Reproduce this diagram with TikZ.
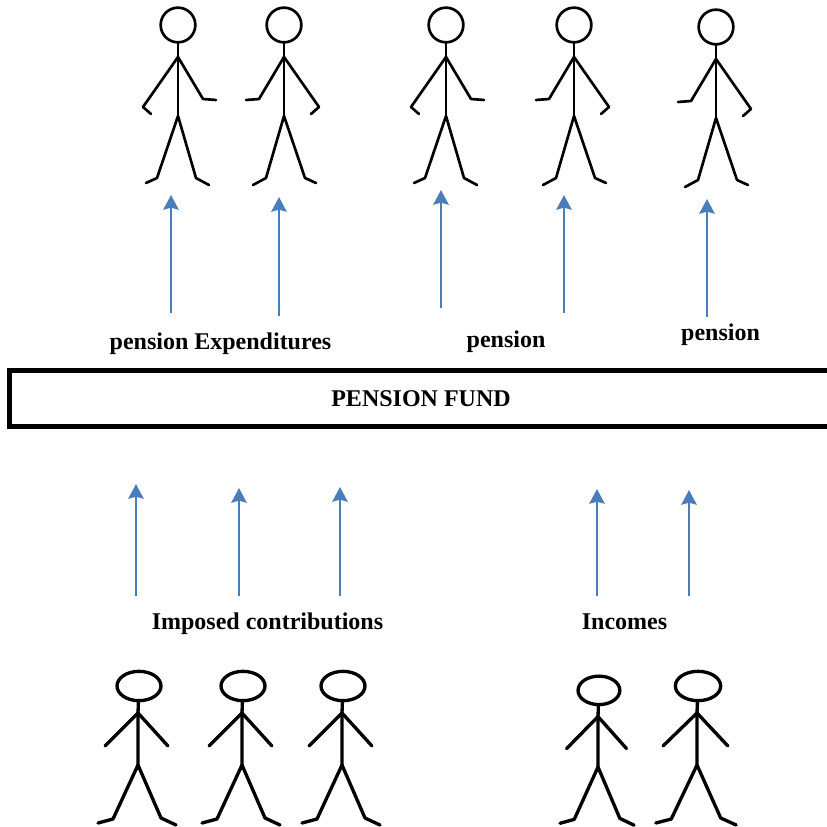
\documentclass[tikz,border=0pt]{standalone}
\usepackage{fontspec}
\setmainfont{Liberation Serif}
\usetikzlibrary{arrows.meta,shapes.geometric}

\definecolor{flowblue}{RGB}{74,126,187}

\tikzset{
  label/.style={font=\fontsize{18}{20}\selectfont\bfseries, inner sep=0pt, text height=12pt, text depth=4pt},
  fundbox/.style={draw, line width=3.75pt, minimum width=618pt, minimum height=42pt,
                  font=\fontsize{18}{20}\selectfont\bfseries, inner sep=0pt},
  flow/.style={-{Stealth[width=11.5pt,length=11pt,inset=1.5pt]}, flowblue, line width=1.9pt},
  limb/.style={line join=round, line cap=round},
  pics/payee/.style={code={
    \node[circle, draw, line width=2pt, minimum size=26pt, inner sep=0pt] (-head) at (0,-91) {};
    \coordinate (-neck) at (0,-59);
    \coordinate (-hip)  at (0,0);
    \draw[limb, line width=2pt] (-head) -- (-neck) -- (-hip);
    \draw[limb, line width=2pt] (-27,-2) -- (-35,-9) -- (-neck) -- (25,-17) -- (38,-16);
    \draw[limb, line width=2pt] (-32,67) -- (-21,62) -- (-hip) -- (18,62) -- (31,69);
  }},
  pics/payer/.style={code={
    \node[ellipse, draw, line width=2.5pt, minimum width=33pt, minimum height=22pt,
          inner sep=0pt, transform shape] (-head) at (1,-79) {};
    \coordinate (-neck) at (0,-52);
    \coordinate (-hip)  at (0,0);
    \draw[limb, line width=2.5pt] (-head) -- (-neck) -- (-hip);
    \draw[limb, line width=2.5pt] (-33,-19) -- (-neck) -- (30,-19);
    \draw[limb, line width=2.5pt] (-40,58) -- (-25,54) -- (-hip) -- (23,53) -- (38,60);
  }},
}

\begin{document}
\begin{tikzpicture}[x=0.75pt, y=-0.75pt]
  \useasboundingbox (0,0) rectangle (827,827);

  % people drawing a pension
  \pic                (payee1) at (178,116) {payee};
  \pic[xscale=-1]     (payee2) at (284,116) {payee};
  \pic                (payee3) at (446,116) {payee};
  \pic[xscale=-1]     (payee4) at (574,116) {payee};
  \pic[xscale=-1]     (payee5) at (716,118) {payee};

  % people paying in
  \pic                          (payer1) at (138,765) {payer};
  \pic                          (payer2) at (242,765) {payer};
  \pic                          (payer3) at (342,765) {payer};
  \pic[xscale=.95, yscale=.97]  (payer4) at (598,767) {payer};
  \pic[xscale=1.03]             (payer5) at (697,765) {payer};

  \node[fundbox] (fund)     at (421,398.5) {PENSION FUND};
  \node[label]   (expend)   at (220.5,343.7) {pension Expenditures};
  \node[label]   (pension1) at (506,341.7)   {pension};
  \node[label]   (pension2) at (720.5,334.7) {pension};
  \node[label]   (imposed)  at (267.5,623.7) {Imposed contributions};
  \node[label]   (incomes)  at (624.5,623.7) {Incomes};

  \coordinate (out1)     at (171,313);
  \coordinate (out1tip)  at (171,195);
  \coordinate (out2)     at (279,316);
  \coordinate (out2tip)  at (279,197);
  \coordinate (out3)     at (441,308);
  \coordinate (out3tip)  at (441,190);
  \coordinate (out4)     at (564,313);
  \coordinate (out4tip)  at (564,195);
  \coordinate (out5)     at (707,317);
  \coordinate (out5tip)  at (707,199);
  \coordinate (in1)      at (136,596);
  \coordinate (in1tip)   at (136,484);
  \coordinate (in2)      at (239,596);
  \coordinate (in2tip)   at (239,488);
  \coordinate (in3)      at (340,596);
  \coordinate (in3tip)   at (340,487);
  \coordinate (in4)      at (597,596);
  \coordinate (in4tip)   at (597,489);
  \coordinate (in5)      at (689,596);
  \coordinate (in5tip)   at (689,490);

  \path[flow] (out1) edge (out1tip);
  \path[flow] (out2) edge (out2tip);
  \path[flow] (out3) edge (out3tip);
  \path[flow] (out4) edge (out4tip);
  \path[flow] (out5) edge (out5tip);
  \path[flow] (in1) edge (in1tip);
  \path[flow] (in2) edge (in2tip);
  \path[flow] (in3) edge (in3tip);
  \path[flow] (in4) edge (in4tip);
  \path[flow] (in5) edge (in5tip);
\end{tikzpicture}
\end{document}
